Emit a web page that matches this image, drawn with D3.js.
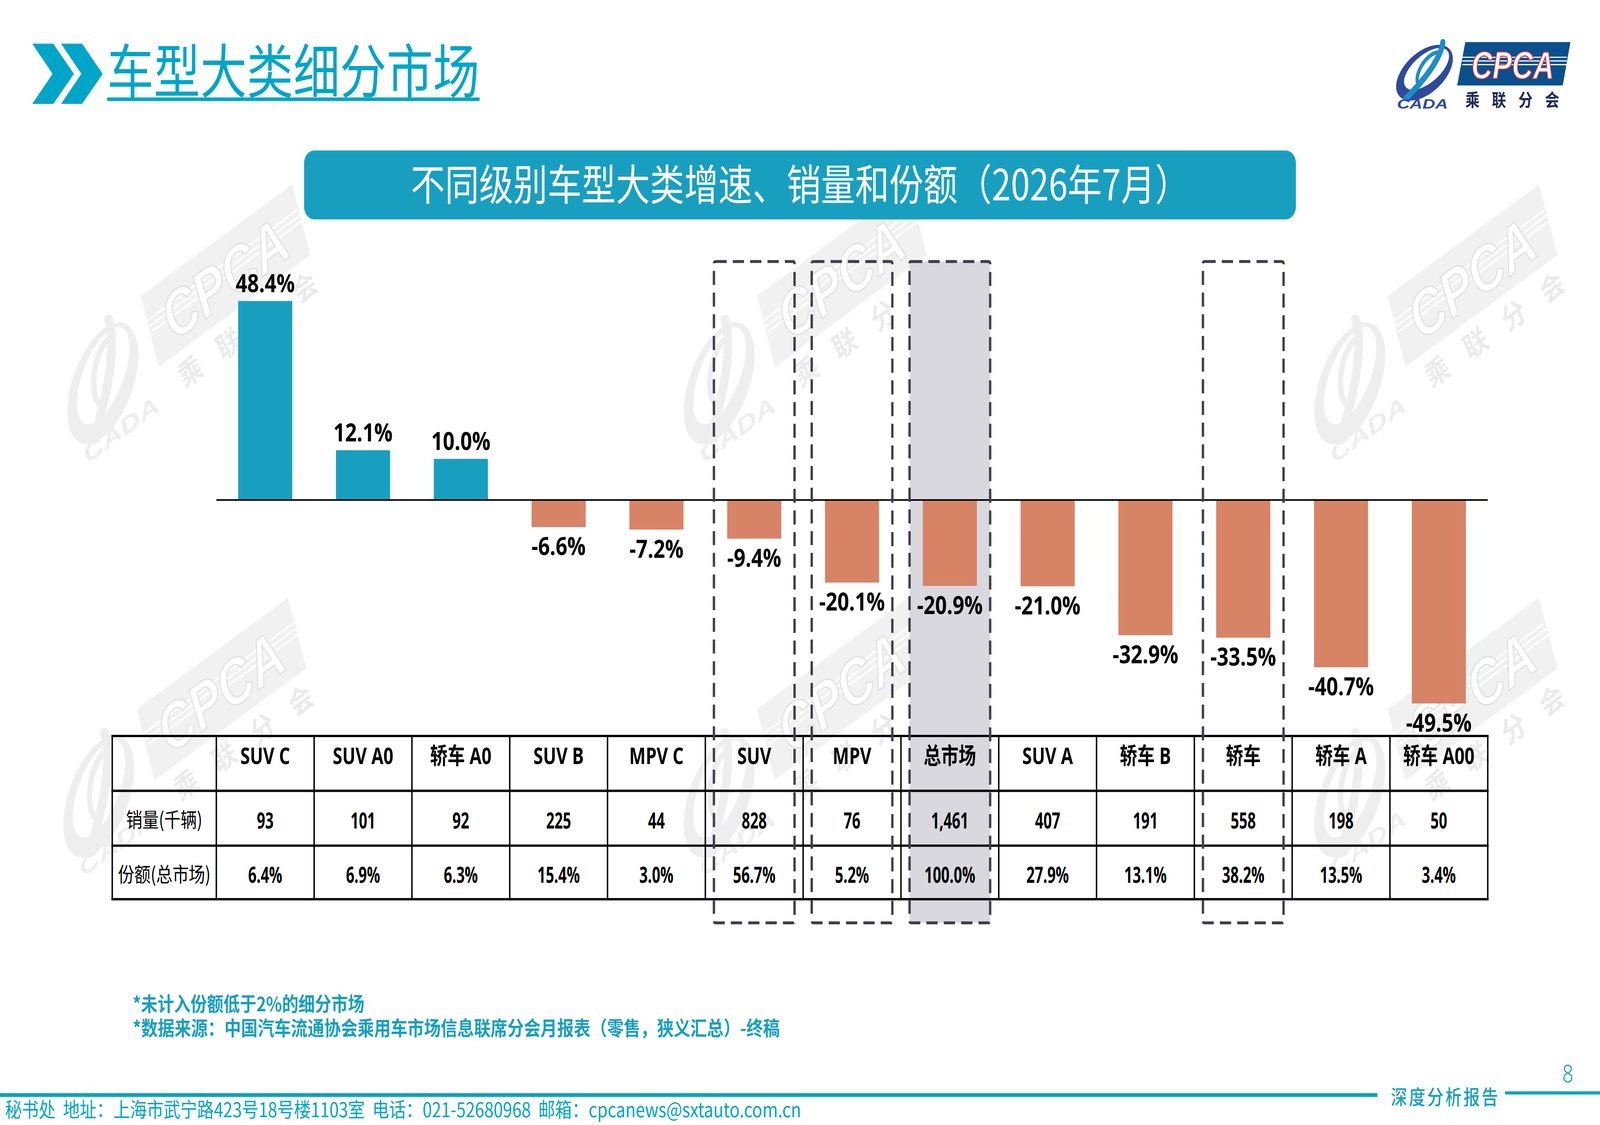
<!DOCTYPE html>
<html>
<head>
<meta charset="utf-8">
<script src="https://cdn.jsdelivr.net/npm/d3@7"></script>
<style>
  html, body { margin: 0; padding: 0; background: #fff; overflow: hidden; }
  svg { display: block; width: 100vw; height: 100vh; }
</style>
</head>
<body>
<svg id="slide" viewBox="0 0 1568 882" preserveAspectRatio="none"></svg>
<script>
// ---- data ----
const categories = ['SUV C', 'SUV A0', '轿车 A0', 'SUV B', 'MPV C', 'SUV', 'MPV', '总市场', 'SUV A', '轿车 B', '轿车', '轿车 A', '轿车 A00'];
const growth = [48.4, 12.1, 10.0, -6.6, -7.2, -9.4, -20.1, -20.9, -21.0, -32.9, -33.5, -40.7, -49.5];
const sales = [93, 101, 92, 225, 44, 828, 76, 1461, 407, 191, 558, 198, 50];
const share = [6.4, 6.9, 6.3, 15.4, 3.0, 56.7, 5.2, 100.0, 27.9, 13.1, 38.2, 13.5, 3.4];
const boxedCats = ['SUV', 'MPV', '总市场', '轿车'];
const shadedCats = ['总市场'];
const rowLabels = ['销量(千辆)', '份额(总市场)'];
const pageTitle = '车型大类细分市场';
const chartTitle = '不同级别车型大类增速、销量和份额（2026年7月）';
const footnotes = ['*未计入份额低于2%的细分市场', '*数据来源：中国汽车流通协会乘用车市场信息联席分会月报表（零售，狭义汇总）-终稿'];
const footerText = '秘书处  地址：上海市武宁路423号18号楼1103室  电话：021-52680968  邮箱：cpcanews@sxtauto.com.cn';

// ---- style ----
const CYAN = '#00A5C8';
const BLUE = '#189FC0';
const SALMON = '#D78366';
const cjk = "'Noto Sans CJK SC', 'Noto Sans', sans-serif";
const tableFont = "'Open Sans', 'Noto Sans CJK SC', sans-serif";
const labelFont = "'Open Sans', 'Noto Sans', sans-serif";

// plain hyphen for negatives, like the slide
const locale = d3.formatLocale({ decimal: '.', thousands: ',', grouping: [3], currency: ['', ''], minus: '-' });
const fmtPct = v => locale.format('.1f')(v) + '%';
const fmtInt = locale.format(',');

// squeeze a text horizontally (the slide uses a narrow face)
function condense(sel, k) {
  sel.each(function () {
    const w = this.getComputedTextLength();
    d3.select(this).attr('textLength', w * k).attr('lengthAdjust', 'spacingAndGlyphs');
  });
}

const svg = d3.select('#slide');
svg.append('rect').attr('width', 1568).attr('height', 882).attr('fill', '#fff');

// ---- logo (used for header and watermarks) ----
function drawLogo(g, c) {
  g.append('ellipse')
    .attr('cx', 31).attr('cy', 24).attr('rx', 31).attr('ry', 17)
    .attr('transform', 'rotate(-32 31 24)')
    .attr('fill', c.ring);
  g.append('ellipse')
    .attr('cx', 33).attr('cy', 21).attr('rx', 25).attr('ry', 11.5)
    .attr('transform', 'rotate(-32 33 21)')
    .attr('fill', c.bg);
  g.append('path')
    .attr('d', 'M49,0 C47,14 28,32 13,44')
    .attr('fill', 'none').attr('stroke', c.phi)
    .attr('stroke-width', 5).attr('stroke-linecap', 'round');
  g.append('path')
    .attr('d', 'M44,8 C33,9 22,24 24,31 C27,35 36,26 41,14')
    .attr('fill', 'none').attr('stroke', c.phi).attr('stroke-width', 3.2);
  g.append('text')
    .attr('x', 4).attr('y', 52)
    .attr('textLength', 50).attr('lengthAdjust', 'spacingAndGlyphs')
    .style('font-family', "'Liberation Sans', sans-serif")
    .style('font-weight', 700).style('font-style', 'italic').style('font-size', '11px')
    .attr('fill', c.ring)
    .text('CADA');

  g.append('polygon')
    .attr('points', '71,0 174,0 166.5,34 63,34')
    .attr('fill', c.box);
  [11.9, 14.8, 17.7].forEach(yy => {
    g.append('line')
      .attr('x1', 68).attr('x2', 170.5).attr('y1', yy).attr('y2', yy)
      .attr('stroke', c.bg).attr('stroke-width', 0.9);
  });
  g.append('text')
    .attr('x', 77).attr('y', 28.5)
    .attr('textLength', 81).attr('lengthAdjust', 'spacingAndGlyphs')
    .style('font-family', "'Liberation Sans', sans-serif")
    .style('font-weight', 700).style('font-style', 'italic').style('font-size', '30px')
    .attr('fill', c.bg).attr('stroke', c.cpcaStroke).attr('stroke-width', 0.8)
    .text('CPCA');
  g.append('text')
    .attr('x', 71).attr('y', 50.5)
    .attr('textLength', 92).attr('lengthAdjust', 'spacing')
    .style('font-family', cjk).style('font-weight', 700).style('font-size', '14px')
    .attr('fill', c.cn)
    .text('乘联分会');
}

// watermarks (faint rotated logos)
const watermarkAnchors = [[138, 232], [742, 232], [1360, 232], [134, 556], [742, 556], [1360, 556]];
const wmPalette = { ring: '#EEEEEE', phi: '#EEEEEE', bg: '#FFFFFF', box: '#F1F1F1', cpcaStroke: '#E4E4E4', cn: '#EBEBEB' };
watermarkAnchors.forEach(([px, py]) => {
  const wg = svg.append('g')
    .attr('transform', `translate(${px},${py}) rotate(-30.5) scale(1.67) translate(-71,0)`);
  drawLogo(wg, wmPalette);
});

// ---- header ----
const chev = svg.append('g').attr('fill', CYAN);
[0, 28.2].forEach(dx => {
  chev.append('polygon')
    .attr('points', [[31.6, 34.2], [52.2, 34.2], [72.4, 57.9], [52.2, 81.5], [31.6, 81.5], [51.5, 57.9]]
      .map(p => `${p[0] + dx},${p[1]}`).join(' '));
});

svg.append('text')
  .attr('x', 105).attr('y', 73)
  .attr('textLength', 365).attr('lengthAdjust', 'spacingAndGlyphs')
  .style('font-family', cjk).style('font-size', '46px')
  .attr('fill', CYAN)
  .text(pageTitle);
svg.append('rect')
  .attr('x', 105).attr('y', 76.4).attr('width', 365).attr('height', 2.8)
  .attr('fill', CYAN);

const logo = svg.append('g').attr('transform', 'translate(1365,33)');
drawLogo(logo, { ring: '#2E4B9B', phi: '#1E8DC8', bg: '#FFFFFF', box: '#0A4F8F', cpcaStroke: '#E03030', cn: '#1C2B5A' });

// banner
svg.append('rect')
  .attr('x', 298).attr('y', 118).attr('width', 972).attr('height', 54).attr('rx', 10)
  .attr('fill', BLUE);
svg.append('text')
  .attr('x', 784).attr('y', 157)
  .attr('text-anchor', 'middle')
  .style('font-family', cjk).style('font-size', '33.5px')
  .attr('fill', '#fff')
  .text(chartTitle);

// ---- chart ----
const x = d3.scaleBand().domain(categories).range([212, 1458]).paddingInner(0.447).paddingOuter(0.2235);
const col = d3.scaleBand().domain(categories).range([212, 1458]).padding(0);
const y = d3.scaleLinear().domain(d3.extent(growth)).range([551.5, 236]);
const cx = c => x(c) + x.bandwidth() / 2;

const boxTop = 205, boxBottom = 723.5, boxHalf = 39.5;

// shaded column (behind bars)
svg.append('g').selectAll('rect')
  .data(shadedCats)
  .join('rect')
  .attr('x', d => cx(d) - boxHalf)
  .attr('y', boxTop)
  .attr('width', boxHalf * 2)
  .attr('height', boxBottom - boxTop)
  .attr('fill', '#D9D8DF');

const rows = categories.map((c, i) => ({ cat: c, growth: growth[i], sales: sales[i], share: share[i] }));

svg.append('g').selectAll('rect')
  .data(rows)
  .join('rect')
  .attr('x', d => x(d.cat))
  .attr('width', x.bandwidth())
  .attr('y', d => y(Math.max(0, d.growth)))
  .attr('height', d => Math.abs(y(d.growth) - y(0)))
  .attr('fill', d => d.growth >= 0 ? BLUE : SALMON);

svg.append('line')
  .attr('x1', 212).attr('x2', 1458)
  .attr('y1', y(0)).attr('y2', y(0))
  .attr('stroke', '#000').attr('stroke-width', 1.2);

svg.append('g').selectAll('text')
  .data(rows)
  .join('text')
  .attr('x', d => cx(d.cat))
  .attr('y', d => d.growth >= 0 ? y(d.growth) - 7 : y(d.growth) + 22)
  .attr('text-anchor', 'middle')
  .style('font-family', labelFont).style('font-weight', 700).style('font-size', '20px')
  .attr('fill', '#000')
  .text(d => fmtPct(d.growth));

// ---- table ----
const rowEdges = [577, 620, 663, 705];
const tableLeft = 110, tableRight = 1458;
const table = svg.append('g');

table.selectAll('line.h')
  .data(rowEdges)
  .join('line')
  .attr('class', 'h')
  .attr('x1', tableLeft - 0.8).attr('x2', tableRight + 0.8)
  .attr('y1', d => d).attr('y2', d => d)
  .attr('stroke', '#000').attr('stroke-width', 1.8);

const colEdges = [tableLeft, 212].concat(categories.map(c => col(c) + col.bandwidth()));
table.selectAll('line.v')
  .data(colEdges)
  .join('line')
  .attr('class', 'v')
  .attr('x1', d => d).attr('x2', d => d)
  .attr('y1', rowEdges[0]).attr('y2', rowEdges[3])
  .attr('stroke', '#000').attr('stroke-width', 1.4);

const colMid = c => col(c) + col.bandwidth() / 2;

table.selectAll('text.head')
  .data(categories)
  .join('text')
  .attr('class', 'head')
  .attr('x', d => colMid(d)).attr('y', 599)
  .attr('text-anchor', 'middle')
  .style('font-family', tableFont).style('font-weight', 700).style('font-size', '18px')
  .attr('fill', '#000')
  .text(d => d)
  .call(condense, 0.95);

table.selectAll('text.sales')
  .data(rows)
  .join('text')
  .attr('class', 'sales')
  .attr('x', d => colMid(d.cat)).attr('y', 649.5)
  .attr('text-anchor', 'middle')
  .style('font-family', tableFont).style('font-weight', 700).style('font-size', '17.5px')
  .attr('fill', '#000')
  .text(d => fmtInt(d.sales))
  .call(condense, 0.82);

table.selectAll('text.share')
  .data(rows)
  .join('text')
  .attr('class', 'share')
  .attr('x', d => colMid(d.cat)).attr('y', 692)
  .attr('text-anchor', 'middle')
  .style('font-family', tableFont).style('font-weight', 700).style('font-size', '17.5px')
  .attr('fill', '#000')
  .text(d => fmtPct(d.share))
  .call(condense, 0.82);

table.selectAll('text.rowlab')
  .data(rowLabels)
  .join('text')
  .attr('class', 'rowlab')
  .attr('x', (tableLeft + 212) / 2)
  .attr('y', (d, i) => [648.5, 691.5][i])
  .attr('text-anchor', 'middle')
  .style('font-family', cjk).style('font-size', '16px')
  .attr('fill', '#000')
  .text(d => d);

// dashed highlight boxes (on top)
svg.append('g').selectAll('rect')
  .data(boxedCats)
  .join('rect')
  .attr('x', d => cx(d) - boxHalf)
  .attr('y', boxTop)
  .attr('width', boxHalf * 2)
  .attr('height', boxBottom - boxTop)
  .attr('rx', 1.5)
  .attr('fill', 'none')
  .attr('stroke', '#3F3F4B').attr('stroke-width', 2.3)
  .attr('stroke-dasharray', '11,6');

// ---- footnotes & footer ----
svg.append('g').selectAll('text')
  .data(footnotes)
  .join('text')
  .attr('x', 130)
  .attr('y', (d, i) => [793, 812][i])
  .attr('textLength', (d, i) => [227, 634][i])
  .attr('lengthAdjust', 'spacingAndGlyphs')
  .style('font-family', cjk).style('font-weight', 700).style('font-size', '15.5px')
  .attr('fill', BLUE)
  .text(d => d);

svg.append('rect').attr('x', 0).attr('y', 857).attr('width', 1350).attr('height', 3).attr('fill', CYAN);
svg.append('rect').attr('x', 1475).attr('y', 855.6).attr('width', 93).attr('height', 2.5).attr('fill', CYAN);

svg.append('text')
  .attr('x', 1363).attr('y', 866)
  .attr('textLength', 105).attr('lengthAdjust', 'spacing')
  .style('font-family', cjk).style('font-weight', 500).style('font-size', '16px')
  .attr('fill', BLUE)
  .text('深度分析报告');

svg.append('text')
  .attr('x', 1536.5).attr('y', 848.5)
  .attr('text-anchor', 'middle')
  .style('font-family', "'Noto Sans', sans-serif").style('font-weight', 300).style('font-size', '19px')
  .attr('fill', BLUE)
  .text('8');

svg.append('text')
  .attr('x', 5).attr('y', 876)
  .attr('textLength', 780).attr('lengthAdjust', 'spacingAndGlyphs')
  .style('white-space', 'pre')
  .style('font-family', cjk).style('font-size', '16px')
  .attr('fill', CYAN)
  .text(footerText);
</script>
</body>
</html>
